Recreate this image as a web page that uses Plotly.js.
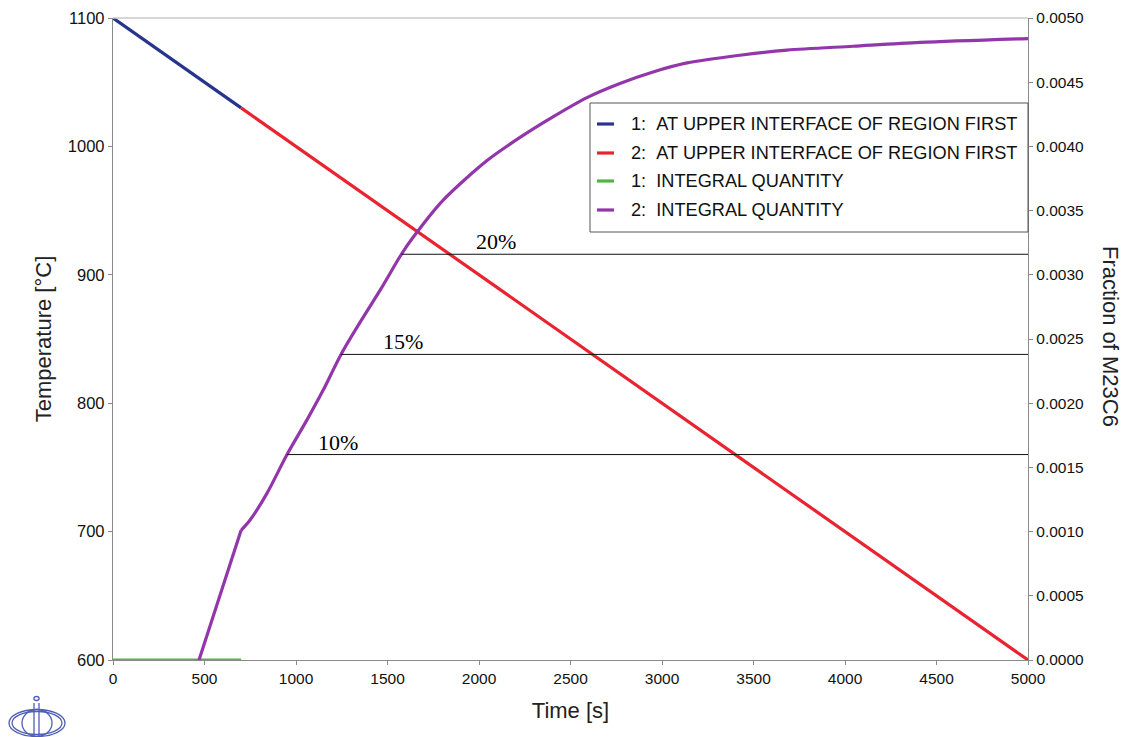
<!DOCTYPE html>
<html>
<head>
<meta charset="utf-8">
<script src="https://cdn.plot.ly/plotly-3.0.1.min.js"></script>
<style>
  html, body { margin: 0; padding: 0; background: #fff; }
  #chart { width: 1127px; height: 737px; }
</style>
</head>
<body>
<div id="chart"></div>
<script>
// Temperature history at the upper interface (two calculation stages)
const timeStage1 = [0, 700];
const tempStage1 = [1100, 1030];
const timeStage2 = [700, 5000];
const tempStage2 = [1030, 600];

// M23C6 fraction (integral quantity) for both stages
const timeFrac1 = [0, 700];
const frac1 = [0, 0];
const timeFrac2 = [470, 700, 749, 842, 951, 1060, 1148, 1246, 1350, 1464, 1576, 1639,
  1803, 2044, 2224, 2404, 2590, 2770, 2951, 3137, 3426, 3683, 4044, 4410, 5000];
const frac2 = [0, 0.00101, 0.00109, 0.00130, 0.00160, 0.00187, 0.00210, 0.00238, 0.00263,
  0.00289, 0.00316, 0.00329, 0.00358, 0.00389, 0.00407, 0.00423, 0.00438, 0.00449,
  0.00458, 0.00465, 0.00471, 0.00475, 0.00478, 0.00481, 0.00484];
const kinkIndex = 1;   // fraction curve turns sharply at 700 s

// Marked fraction levels
const levelLabels = ['10%', '15%', '20%'];
const levelFrac = [0.0016, 0.00238, 0.00316];
const levelStart = [951, 1246, 1576];
const levelLabelTime = [1109, 1464, 1973];
const levelEnd = 5000;

const legendNames = [
  '1:\u00a0\u00a0AT UPPER INTERFACE OF REGION FIRST',
  '2:\u00a0\u00a0AT UPPER INTERFACE OF REGION FIRST',
  '1:\u00a0\u00a0INTEGRAL QUANTITY',
  '2:\u00a0\u00a0INTEGRAL QUANTITY'
];
const colors = ['#27348b', '#ea2330', '#52b443', '#9236aa'];

const xTicks = [0, 500, 1000, 1500, 2000, 2500, 3000, 3500, 4000, 4500, 5000];
const yTicks = [600, 700, 800, 900, 1000, 1100];
const y2Ticks = [0, 0.0005, 0.001, 0.0015, 0.002, 0.0025, 0.003, 0.0035, 0.004, 0.0045, 0.005];

// Page geometry
const W = 1127, H = 737;
const M = {l: 113, r: 99, t: 18, b: 77};
const PW = W - M.l - M.r, PH = H - M.t - M.b;
const px = x => (x - M.l) / PW;          // pixel x -> paper x
const py = y => (H - M.b - y) / PH;       // pixel y -> paper y

const FONT = 'Liberation Sans, Arial, sans-serif';
const lineStyle = c => ({color: c, width: 3.2});

const traces = [
  {x: timeStage1, y: tempStage1, yaxis: 'y', line: lineStyle(colors[0])},
  {x: timeStage2, y: tempStage2, yaxis: 'y', line: lineStyle(colors[1])},
  {x: timeFrac1, y: frac1, yaxis: 'y2', line: lineStyle(colors[2])},
  // nucleation ramp up to the kink
  {x: timeFrac2.slice(0, kinkIndex + 1), y: frac2.slice(0, kinkIndex + 1), yaxis: 'y2',
    line: lineStyle(colors[3])},
  // smooth growth after the kink
  {x: timeFrac2.slice(kinkIndex), y: frac2.slice(kinkIndex), yaxis: 'y2',
    line: Object.assign(lineStyle(colors[3]), {shape: 'spline', smoothing: 0.8})}
].map(t => Object.assign(t, {type: 'scatter', mode: 'lines', cliponaxis: false, showlegend: false}));

const shapes = [];
const annotations = [];

// Top frame edge
shapes.push({type: 'line', xref: 'paper', yref: 'paper', x0: 0, x1: 1, y0: 1, y1: 1,
  line: {color: '#c8c8c8', width: 1.5}});

// Level lines and labels
levelFrac.forEach((f, i) => {
  shapes.push({type: 'line', xref: 'x', yref: 'y2', x0: levelStart[i], x1: levelEnd,
    y0: f, y1: f, line: {color: '#111', width: 1}});
  annotations.push({xref: 'x', yref: 'y2', x: levelLabelTime[i], y: f,
    xanchor: 'left', yanchor: 'bottom', yshift: -2, showarrow: false, text: levelLabels[i],
    font: {family: 'Liberation Serif, Times New Roman, serif', size: 22, color: '#000'}});
});

// Legend box
shapes.push({type: 'rect', xref: 'paper', yref: 'paper', x0: px(590), x1: px(1028),
  y0: py(232), y1: py(103), line: {color: '#555', width: 1}, fillcolor: 'rgba(255,255,255,0)'});
const legY = [124, 153, 181, 210];
legY.forEach((y, i) => {
  shapes.push({type: 'line', xref: 'paper', yref: 'paper', x0: px(597), x1: px(614),
    y0: py(y), y1: py(y), line: {color: colors[i], width: 3.2}});
  annotations.push({xref: 'paper', yref: 'paper', x: px(629), y: py(y), xanchor: 'left',
    yanchor: 'middle', showarrow: false, text: legendNames[i],
    font: {family: FONT, size: 18.2, color: '#111'}});
});

// Right axis title, reading top to bottom
annotations.push({xref: 'paper', yref: 'paper', x: px(1111), y: py(336), textangle: 90,
  xanchor: 'center', yanchor: 'middle',
  showarrow: false, text: 'Fraction of M23C6', font: {family: FONT, size: 22, color: '#222'}});

// Logo in the lower-left corner
const logoColor = '#4f5fb4';
const ell = (cx, cy, rx, ry) => ({type: 'circle', xref: 'paper', yref: 'paper',
  x0: px(cx - rx), x1: px(cx + rx), y0: py(cy + ry), y1: py(cy - ry),
  line: {color: logoColor, width: 1.3}});
shapes.push(ell(37, 723, 28, 13.5));
shapes.push(ell(37, 723, 25, 11.5));
shapes.push(ell(37, 723, 15, 13.5));
shapes.push(ell(36.5, 698.5, 2.6, 2));
[34, 39].forEach(x => shapes.push({type: 'line', xref: 'paper', yref: 'paper',
  x0: px(x), x1: px(x), y0: py(703), y1: py(737), line: {color: logoColor, width: 1.3}}));

const axisCommon = {
  showgrid: false, zeroline: false, showline: true, linecolor: '#8a8a8a', linewidth: 1.2,
  ticks: 'outside', ticklen: 4, tickcolor: '#8a8a8a', tickwidth: 1, layer: 'below traces',
  tickfont: {family: FONT, size: 15.5, color: '#111'}
};

const layout = {
  width: W, height: H,
  margin: M,
  paper_bgcolor: '#fff', plot_bgcolor: '#fff',
  showlegend: false,
  xaxis: Object.assign({}, axisCommon, {
    range: [0, 5000], tickvals: xTicks, ticktext: xTicks.map(String),
    title: {text: 'Time [s]', font: {family: FONT, size: 22, color: '#222'}, standoff: 16}
  }),
  yaxis: Object.assign({}, axisCommon, {
    range: [600, 1100], tickvals: yTicks, ticktext: yTicks.map(String),
    tickfont: {family: FONT, size: 16.5, color: '#111'},
    title: {text: 'Temperature [\u00b0C]', font: {family: FONT, size: 22, color: '#222'}, standoff: 10}
  }),
  yaxis2: Object.assign({}, axisCommon, {
    range: [0, 0.005], tickvals: y2Ticks, ticktext: y2Ticks.map(v => v.toFixed(4)),
    overlaying: 'y', side: 'right'
  }),
  shapes: shapes,
  annotations: annotations
};

Plotly.newPlot('chart', traces, layout, {displayModeBar: false, staticPlot: true});
</script>
</body>
</html>
